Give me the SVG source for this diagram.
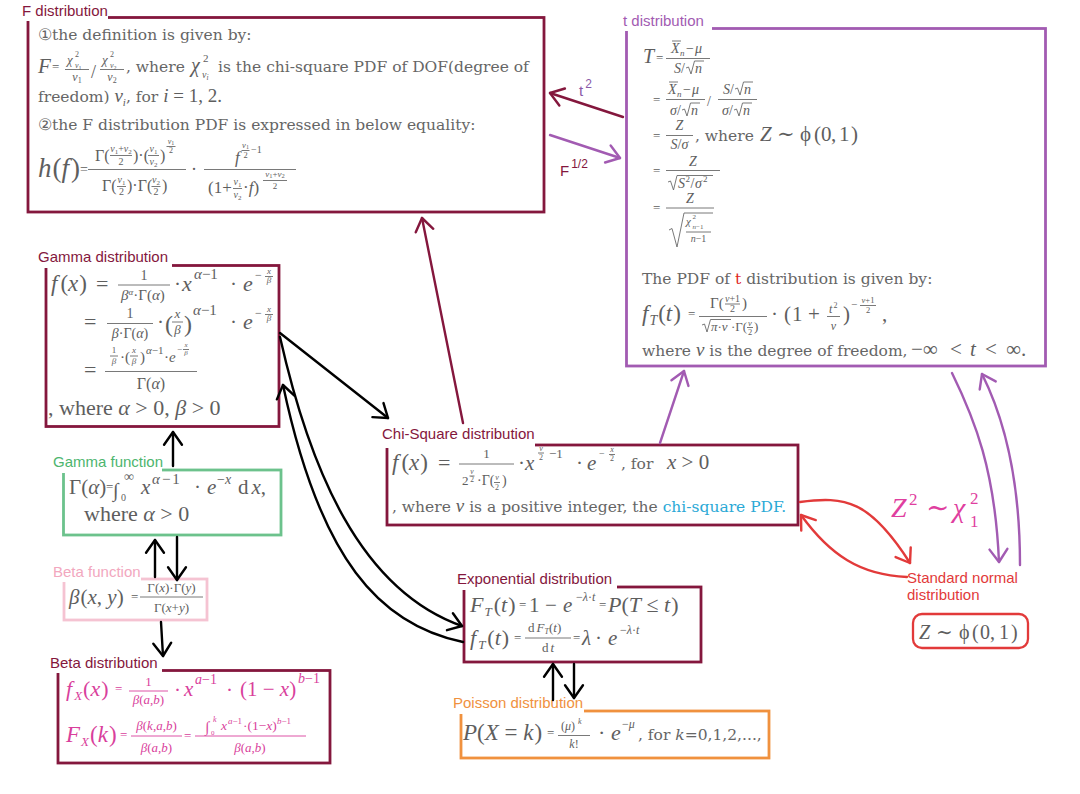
<svg xmlns="http://www.w3.org/2000/svg" width="1080" height="794" viewBox="0 0 1080 794">
<defs>
<style>
.lbl{font-family:"Liberation Sans",Arial,sans-serif;font-size:15px}
.bd{font-family:"DejaVu Serif","Liberation Serif",serif;font-size:15.5px;fill:#666}
.m{font-family:"Liberation Serif","Times New Roman","DejaVu Serif",serif;fill:#5e5e5e}
.i{font-style:italic}
.u{font-style:normal}
.c{text-anchor:middle}
.bar{stroke:#6a6a6a;stroke-width:0.9;fill:none}
.box{fill:none;stroke-width:2.8}
.mar{stroke:#84173d}
.cn{fill:none;stroke-width:2.4;stroke-linecap:round}
.mg .m{fill:#d93f9c}
.mg .bar{stroke:#d93f9c}
</style>
<marker id="aK" viewBox="-2 -2 14 18" refX="10" refY="7" markerWidth="18" markerHeight="23" markerUnits="userSpaceOnUse" orient="auto"><path d="M0,0 L10,7 L0,14" fill="none" stroke="#000" stroke-width="1.9" stroke-linecap="round" stroke-linejoin="round"/></marker>
<marker id="aM" viewBox="-2 -2 14 18" refX="10" refY="7" markerWidth="18" markerHeight="23" markerUnits="userSpaceOnUse" orient="auto"><path d="M0,0 L10,7 L0,14" fill="none" stroke="#84173d" stroke-width="1.9" stroke-linecap="round" stroke-linejoin="round"/></marker>
<marker id="aP" viewBox="-2 -2 14 18" refX="10" refY="7" markerWidth="18" markerHeight="23" markerUnits="userSpaceOnUse" orient="auto"><path d="M0,0 L10,7 L0,14" fill="none" stroke="#a25bb2" stroke-width="1.9" stroke-linecap="round" stroke-linejoin="round"/></marker>
<marker id="aR" viewBox="-2 -2 14 18" refX="10" refY="7" markerWidth="18" markerHeight="23" markerUnits="userSpaceOnUse" orient="auto"><path d="M0,0 L10,7 L0,14" fill="none" stroke="#e23a3a" stroke-width="1.9" stroke-linecap="round" stroke-linejoin="round"/></marker>
</defs>
<rect width="1080" height="794" fill="#fff"/>

<!-- F distribution -->
<g id="f-dist">
<rect class="box mar" x="28" y="17.5" width="516" height="194.5"/>
<rect x="18" y="3" width="90" height="18" fill="#fff"/>
<text class="lbl" x="22" y="16" fill="#84173d">F distribution</text>
<text class="bd" x="38" y="40">①the definition is given by:</text>
<text class="m i" x="38" y="73" font-size="21">F</text>
<text class="m" x="52" y="71" font-size="13">=</text>
<text class="m i" x="67" y="64" font-size="13">χ</text>
<text class="m" x="75" y="57" font-size="8">2</text>
<text class="m i" x="75" y="68" font-size="8">ν<tspan class="u" font-size="6" dy="1.5">1</tspan></text>
<line class="bar" x1="65" y1="69.5" x2="89" y2="69.5"/>
<text class="m i c" x="77" y="81" font-size="12">ν<tspan class="u" font-size="8" dy="2">1</tspan></text>
<text class="m" x="91" y="78" font-size="18">/</text>
<text class="m i" x="102" y="64" font-size="13">χ</text>
<text class="m" x="110" y="57" font-size="8">2</text>
<text class="m i" x="110" y="68" font-size="8">ν<tspan class="u" font-size="6" dy="1.5">2</tspan></text>
<line class="bar" x1="100" y1="69.5" x2="124" y2="69.5"/>
<text class="m i c" x="112" y="81" font-size="12">ν<tspan class="u" font-size="8" dy="2">2</tspan></text>
<text class="bd" x="126" y="72">, where</text>
<text class="m i" x="191" y="72" font-size="20">χ</text>
<text class="m" x="203" y="62" font-size="11">2</text>
<text class="m i" x="202" y="78" font-size="10">ν<tspan font-size="7.5" dy="2">i</tspan></text>
<text class="bd" x="218" y="72">is the chi-square PDF of DOF(degree of</text>
<text class="bd" x="38" y="102">freedom) <tspan class="m i" font-size="19">ν</tspan><tspan class="m i" font-size="11" dy="4">i</tspan><tspan dy="-4">, for </tspan><tspan class="m i" font-size="19">i</tspan><tspan class="m" font-size="19"> = 1, 2.</tspan></text>
<text class="bd" x="38" y="130">②the F distribution PDF is expressed in below equality:</text>
<text class="m" x="38" y="177" font-size="27"><tspan class="i">h</tspan><tspan dx="1">(</tspan><tspan class="i">f</tspan><tspan dx="2">)</tspan></text>
<text class="m" x="80" y="174" font-size="14">=</text>
<line class="bar" x1="88" y1="169.5" x2="186" y2="169.5"/>
<text class="m" x="95" y="161" font-size="16">Γ(</text>
<text class="m i c" x="121" y="152" font-size="10">ν<tspan class="u" font-size="7" dy="1.5">1</tspan><tspan class="u" dy="-1.5">+</tspan>ν<tspan class="u" font-size="7" dy="1.5">2</tspan></text>
<line class="bar" x1="110" y1="155.5" x2="132" y2="155.5"/>
<text class="m c" x="121" y="164.5" font-size="10">2</text>
<text class="m" x="133" y="161" font-size="16">)·(</text>
<text class="m i c" x="153.5" y="152" font-size="10">ν<tspan class="u" font-size="7" dy="1.5">1</tspan></text>
<line class="bar" x1="148" y1="155.5" x2="159" y2="155.5"/>
<text class="m i c" x="153.5" y="165" font-size="10">ν<tspan class="u" font-size="7" dy="1.5">2</tspan></text>
<text class="m" x="160" y="161" font-size="16">)</text>
<text class="m i c" x="171" y="144" font-size="8">ν<tspan class="u" font-size="6" dy="1">1</tspan></text>
<line class="bar" x1="166.5" y1="146.5" x2="175.5" y2="146.5"/>
<text class="m c" x="171" y="153" font-size="8">2</text>
<text class="m" x="102" y="191" font-size="16">Γ(</text>
<text class="m i c" x="121.5" y="183" font-size="10">ν<tspan class="u" font-size="7" dy="1.5">1</tspan></text>
<line class="bar" x1="117" y1="186.5" x2="126" y2="186.5"/>
<text class="m c" x="121.5" y="195" font-size="10">2</text>
<text class="m" x="127" y="191" font-size="16">)·Γ(</text>
<text class="m i c" x="156" y="183" font-size="10">ν<tspan class="u" font-size="7" dy="1.5">2</tspan></text>
<line class="bar" x1="151.5" y1="186.5" x2="160.5" y2="186.5"/>
<text class="m c" x="156" y="195" font-size="10">2</text>
<text class="m" x="162" y="191" font-size="16">)</text>
<text class="m" x="191" y="175" font-size="18">·</text>
<line class="bar" x1="204" y1="169.5" x2="296" y2="169.5"/>
<text class="m i" x="235" y="163" font-size="17">f</text>
<text class="m i c" x="245.5" y="148" font-size="8.5">ν<tspan class="u" font-size="6" dy="1">1</tspan></text>
<line class="bar" x1="241.5" y1="150.5" x2="249.5" y2="150.5"/>
<text class="m c" x="245.5" y="157.5" font-size="8.5">2</text>
<text class="m" x="251" y="153" font-size="10">−1</text>
<text class="m" x="208" y="193" font-size="17">(1+</text>
<text class="m i c" x="237.5" y="185" font-size="10">ν<tspan class="u" font-size="7" dy="1.5">1</tspan></text>
<line class="bar" x1="233" y1="188.5" x2="242" y2="188.5"/>
<text class="m i c" x="237.5" y="198" font-size="10">ν<tspan class="u" font-size="7" dy="1.5">2</tspan></text>
<text class="m" x="243" y="193" font-size="17">·<tspan class="i">f</tspan>)</text>
<text class="m i c" x="275" y="177" font-size="9">ν<tspan class="u" font-size="6.5" dy="1">1</tspan><tspan class="u" dy="-1">+</tspan>ν<tspan class="u" font-size="6.5" dy="1">2</tspan></text>
<line class="bar" x1="263" y1="180.5" x2="287" y2="180.5"/>
<text class="m c" x="275" y="189" font-size="9">2</text>
</g>

<!-- t distribution -->
<g id="t-dist">
<rect class="box" stroke="#a25bb2" x="626.5" y="28.5" width="419" height="337.5"/>
<rect x="619" y="12" width="93" height="19" fill="#fff"/>
<text class="lbl" x="623" y="26" fill="#a25bb2">t distribution</text>
<text class="m i" x="643" y="63" font-size="20">T</text>
<text class="m" x="656" y="62" font-size="13">=</text>
<line class="bar" x1="666" y1="58.5" x2="710" y2="58.5"/>
<text class="m i" x="671" y="53" font-size="14">X</text>
<line class="bar" x1="672" y1="41" x2="681" y2="41"/>
<text class="m i" x="680" y="56" font-size="9">n</text>
<text class="m" x="686" y="53" font-size="14">−</text>
<text class="m i" x="695" y="53" font-size="14">μ</text>
<text class="m" x="674" y="73" font-size="14"><tspan class="i">S</tspan>/</text>
<path class="bar" d="M686,68 L688.5,67 L691,74 L694.5,61 L704,61"/>
<text class="m i" x="695" y="73" font-size="14">n</text>

<text class="m" x="653" y="104" font-size="13">=</text>
<line class="bar" x1="666" y1="99.5" x2="705" y2="99.5"/>
<text class="m i" x="668" y="94" font-size="14">X</text>
<line class="bar" x1="669" y1="82" x2="678" y2="82"/>
<text class="m i" x="677" y="97" font-size="9">n</text>
<text class="m" x="683" y="94" font-size="14">−</text>
<text class="m i" x="692" y="94" font-size="14">μ</text>
<text class="m" x="670" y="115" font-size="14"><tspan class="i">σ</tspan>/</text>
<path class="bar" d="M682,110 L684.5,109 L687,116 L690.5,103 L700,103"/>
<text class="m i" x="691" y="115" font-size="14">n</text>
<text class="m" x="707" y="106" font-size="14">/</text>
<line class="bar" x1="718" y1="99.5" x2="757" y2="99.5"/>
<text class="m" x="723" y="94" font-size="14"><tspan class="i">S</tspan>/</text>
<path class="bar" d="M735,89 L737.5,88 L740,95 L743.5,82 L753,82"/>
<text class="m i" x="744" y="94" font-size="14">n</text>
<text class="m" x="722" y="115" font-size="14"><tspan class="i">σ</tspan>/</text>
<path class="bar" d="M734,110 L736.5,109 L739,116 L742.5,103 L752,103"/>
<text class="m i" x="743" y="115" font-size="14">n</text>

<text class="m" x="653" y="140" font-size="13">=</text>
<line class="bar" x1="666" y1="135.5" x2="693" y2="135.5"/>
<text class="m i c" x="679.5" y="130" font-size="14">Z</text>
<text class="m c" x="679.5" y="149" font-size="14"><tspan class="i">S</tspan>/<tspan class="i">σ</tspan></text>
<text class="bd" x="695" y="141">, where</text>
<text class="m" y="141" font-size="21"><tspan class="i" x="760">Z</tspan><tspan x="777">∼</tspan><tspan x="800">ϕ</tspan><tspan x="814">(</tspan><tspan x="821">0</tspan><tspan x="831">,</tspan><tspan x="839">1</tspan><tspan x="851">)</tspan></text>

<text class="m" x="653" y="175" font-size="13">=</text>
<line class="bar" x1="666" y1="170.5" x2="720" y2="170.5"/>
<text class="m i c" x="693" y="166" font-size="14">Z</text>
<path class="bar" d="M668,182 L670.5,181 L673.5,190 L677,175.5 L713,175.5"/>
<text class="m i" x="678" y="188" font-size="14">S</text>
<text class="m" x="685.5" y="182" font-size="9">2</text>
<text class="m" x="690.5" y="188" font-size="14">/</text>
<text class="m i" x="695" y="188" font-size="14">σ</text>
<text class="m" x="703" y="182" font-size="9">2</text>

<text class="m" x="653" y="212" font-size="13">=</text>
<line class="bar" x1="666" y1="208" x2="714" y2="208"/>
<text class="m i c" x="690" y="203" font-size="14">Z</text>
<path class="bar" d="M669,230 L672,228.5 L677,247 L684,213 L713,213"/>
<text class="m i" x="686" y="225" font-size="11">χ</text>
<text class="m" x="692.5" y="219" font-size="7">2</text>
<text class="m" x="692.5" y="229" font-size="7"><tspan class="i">n</tspan>−1</text>
<line class="bar" x1="686" y1="232" x2="711" y2="232"/>
<text class="m c" x="698.5" y="242" font-size="10"><tspan class="i">n</tspan>−1</text>

<text class="bd" x="642" y="284">The PDF of <tspan fill="#e02424">t</tspan> distribution is given by:</text>

<text class="m" x="642" y="321" font-size="23"><tspan class="i">f</tspan><tspan class="i" font-size="14" dy="4" dx="1">T</tspan><tspan dy="-4" dx="1">(</tspan><tspan class="i">t</tspan><tspan dx="1">)</tspan></text>
<text class="m" x="688" y="318" font-size="13">=</text>
<line class="bar" x1="699" y1="316.5" x2="767" y2="316.5"/>
<text class="m" x="710" y="308" font-size="15">Γ(</text>
<text class="m c" x="732.5" y="301.5" font-size="10"><tspan class="i">ν</tspan>+1</text>
<line class="bar" x1="725" y1="304" x2="740" y2="304"/>
<text class="m c" x="732.5" y="312" font-size="10">2</text>
<text class="m" x="742" y="308" font-size="15">)</text>
<path class="bar" d="M702,325 L704.5,324 L707,332 L710.5,319.5 L731,319.5"/>
<text class="m i" x="711" y="331" font-size="13">π<tspan class="u">·</tspan>ν</text>
<text class="m" x="731" y="331" font-size="13">·Γ(</text>
<text class="m i c" x="750" y="325.5" font-size="8.5">ν</text>
<line class="bar" x1="747" y1="327.5" x2="753" y2="327.5"/>
<text class="m c" x="750" y="335" font-size="8.5">2</text>
<text class="m" x="754" y="331" font-size="13">)</text>
<text class="m" y="321" font-size="21"><tspan x="771">·</tspan><tspan x="784">(</tspan><tspan x="792">1</tspan><tspan x="808">+</tspan></text>
<text class="m i" x="829" y="313" font-size="12">t</text>
<text class="m" x="833.5" y="308" font-size="8">2</text>
<line class="bar" x1="827" y1="316.5" x2="840" y2="316.5"/>
<text class="m i c" x="833.5" y="330" font-size="12">ν</text>
<text class="m" x="843" y="321" font-size="21">)</text>
<text class="m" x="851" y="308" font-size="11">−</text>
<text class="m c" x="868" y="303" font-size="8.5"><tspan class="i">ν</tspan>+1</text>
<line class="bar" x1="860" y1="305.5" x2="876" y2="305.5"/>
<text class="m c" x="868" y="313" font-size="8.5">2</text>
<text class="m" x="882" y="321" font-size="21">,</text>

<text class="bd" x="642" y="356">where <tspan class="m i" font-size="19">ν</tspan> is the degree of freedom,</text>
<text class="m" y="356" font-size="21"><tspan x="911">−∞</tspan><tspan x="950">&lt;</tspan><tspan class="i" x="970">t</tspan><tspan x="985">&lt;</tspan><tspan x="1006">∞.</tspan></text>
</g>

<!-- Gamma distribution -->
<g id="gamma-dist">
<rect class="box mar" x="46" y="265.5" width="233" height="161"/>
<rect x="35" y="248" width="137" height="20" fill="#fff"/>
<text class="lbl" x="38" y="262" fill="#84173d">Gamma distribution</text>
<text class="m" x="51" y="291" font-size="23"><tspan class="i">f</tspan><tspan dx="3">(</tspan><tspan class="i">x</tspan><tspan dx="1">)</tspan></text>
<text class="m" x="96" y="291" font-size="22">=</text>
<line class="bar" x1="118" y1="285" x2="170" y2="285"/>
<text class="m c" x="144" y="280" font-size="14">1</text>
<text class="m" x="121" y="300" font-size="15"><tspan class="i">β</tspan><tspan class="i" font-size="9" dy="-5">α</tspan><tspan dy="5">·Γ(</tspan><tspan class="i">α</tspan>)</text>
<text class="m" x="174" y="291" font-size="21">·</text>
<text class="m i" x="182" y="291" font-size="22">x</text>
<text class="m" x="194" y="279" font-size="15"><tspan class="i">α</tspan>−1</text>
<text class="m" x="230" y="291" font-size="21">·</text>
<text class="m i" x="243" y="291" font-size="22">e</text>
<text class="m" x="255" y="279" font-size="12">−</text>
<text class="m i c" x="269" y="274" font-size="9">x</text>
<line class="bar" x1="265" y1="276.5" x2="273" y2="276.5"/>
<text class="m i c" x="269" y="283" font-size="9">β</text>

<text class="m" x="84" y="329" font-size="22">=</text>
<line class="bar" x1="107" y1="323.5" x2="153" y2="323.5"/>
<text class="m c" x="130" y="318" font-size="14">1</text>
<text class="m c" x="130" y="338" font-size="14"><tspan class="i">β</tspan>·Γ(<tspan class="i">α</tspan>)</text>
<text class="m" x="157" y="329" font-size="21">·</text>
<text class="m" x="165" y="332" font-size="24">(</text>
<text class="m i c" x="177.5" y="318" font-size="13">x</text>
<line class="bar" x1="172" y1="322" x2="183" y2="322"/>
<text class="m i c" x="177.5" y="334" font-size="13">β</text>
<text class="m" x="184" y="332" font-size="24">)</text>
<text class="m" x="193" y="315" font-size="15"><tspan class="i">α</tspan>−1</text>
<text class="m" x="230" y="329" font-size="21">·</text>
<text class="m i" x="243" y="329" font-size="22">e</text>
<text class="m" x="255" y="317" font-size="12">−</text>
<text class="m i c" x="269" y="312" font-size="9">x</text>
<line class="bar" x1="265" y1="314.5" x2="273" y2="314.5"/>
<text class="m i c" x="269" y="321" font-size="9">β</text>

<text class="m" x="84" y="377" font-size="22">=</text>
<line class="bar" x1="105" y1="371.5" x2="197" y2="371.5"/>
<text class="m c" x="114" y="353" font-size="9">1</text>
<line class="bar" x1="110" y1="356" x2="118" y2="356"/>
<text class="m i c" x="114" y="364" font-size="9">β</text>
<text class="m" x="120" y="362" font-size="15">·(</text>
<text class="m i c" x="134" y="353" font-size="9">x</text>
<line class="bar" x1="130" y1="356" x2="138" y2="356"/>
<text class="m i c" x="134" y="364" font-size="9">β</text>
<text class="m" x="140" y="362" font-size="15">)</text>
<text class="m" x="146" y="354" font-size="11"><tspan class="i">α</tspan>−1</text>
<text class="m" x="164" y="362" font-size="15">·<tspan class="i">e</tspan></text>
<text class="m" x="177" y="352" font-size="9">−</text>
<text class="m i c" x="186" y="347" font-size="7">x</text>
<line class="bar" x1="183" y1="349.5" x2="189" y2="349.5"/>
<text class="m i c" x="186" y="355" font-size="7">β</text>
<text class="m c" x="151" y="389" font-size="16">Γ(<tspan class="i">α</tspan>)</text>

<text class="m" x="48" y="415" font-size="22">, where <tspan class="i">α</tspan> &gt; 0, <tspan class="i">β</tspan> &gt; 0</text>
</g>

<!-- Gamma function -->
<g id="gamma-fn">
<rect class="box" stroke="#6cc28c" stroke-width="1.8" x="63.5" y="470" width="217.5" height="65"/>
<rect x="50" y="454" width="112" height="19" fill="#fff"/>
<text class="lbl" x="53" y="467" fill="#4db56e">Gamma function</text>
<text class="m" x="69" y="494" font-size="21">Γ(<tspan class="i">α</tspan>)</text>
<text class="m" x="106" y="491" font-size="13">=</text>
<text class="m" x="113" y="497" font-size="20">∫</text>
<text class="m" x="121" y="501" font-size="10">0</text>
<text class="m" x="124" y="481" font-size="14">∞</text>
<text class="m i" x="141" y="494" font-size="21">x</text>
<text class="m" x="152" y="484" font-size="15"><tspan class="i">α</tspan><tspan dx="2">−</tspan><tspan dx="2">1</tspan></text>
<text class="m" x="194" y="494" font-size="21">·</text>
<text class="m i" x="207" y="494" font-size="21">e</text>
<text class="m" x="217" y="484" font-size="14">−<tspan class="i">x</tspan></text>
<text class="m" x="238" y="494" font-size="21">d<tspan class="i" dx="3">x</tspan>,</text>
<text class="m" x="84" y="521" font-size="22">where <tspan class="i">α</tspan> &gt; 0</text>
</g>

<!-- Beta function -->
<g id="beta-fn">
<rect class="box" stroke="#f5c3d2" stroke-width="1.8" x="64" y="579" width="143" height="41"/>
<rect x="50" y="563" width="91" height="19" fill="#fff"/>
<text class="lbl" x="53" y="577" fill="#f2a7be">Beta function</text>
<text class="m" x="69" y="604" font-size="21"><tspan class="i">β</tspan><tspan dx="1">(</tspan><tspan class="i">x</tspan>, <tspan class="i">y</tspan>)</text>
<text class="m" x="131" y="601" font-size="13">=</text>
<line class="bar" x1="140" y1="597" x2="203" y2="597"/>
<text class="m c" x="171.5" y="592" font-size="13">Γ(<tspan class="i">x</tspan>)·Γ(<tspan class="i">y</tspan>)</text>
<text class="m c" x="171.5" y="612" font-size="13">Γ(<tspan class="i">x</tspan>+<tspan class="i">y</tspan>)</text>
</g>

<!-- Beta distribution -->
<g id="beta-dist" class="mg">
<rect class="box mar" x="58" y="670.5" width="272" height="92.5"/>
<rect x="47" y="654" width="115" height="19" fill="#fff"/>
<text class="lbl" x="50" y="668" fill="#84173d">Beta distribution</text>
<text class="m" x="66" y="696" font-size="22"><tspan class="i">f</tspan><tspan class="i" font-size="13" dy="4" dx="2">X</tspan><tspan dy="-4" dx="1">(</tspan><tspan class="i">x</tspan><tspan dx="1">)</tspan></text>
<text class="m" x="115" y="693" font-size="13">=</text>
<line class="bar" x1="129" y1="691" x2="168" y2="691"/>
<text class="m c" x="148.5" y="686" font-size="13">1</text>
<text class="m c" x="148.5" y="704" font-size="13"><tspan class="i">β</tspan>(<tspan class="i">a</tspan>,<tspan class="i">b</tspan>)</text>
<text class="m" x="174" y="697" font-size="21">·</text>
<text class="m i" x="184" y="696" font-size="21">x</text>
<text class="m" x="195" y="684" font-size="14"><tspan class="i">a</tspan>−1</text>
<text class="m" x="226" y="697" font-size="21">·</text>
<text class="m" x="240" y="696" font-size="21">(1 − <tspan class="i">x</tspan>)</text>
<text class="m" x="298" y="683" font-size="14"><tspan class="i">b</tspan>−1</text>
<text class="m" x="66" y="742" font-size="23"><tspan class="i">F</tspan><tspan class="i" font-size="13" dy="4" dx="1">X</tspan><tspan dy="-4" dx="1">(</tspan><tspan class="i">k</tspan><tspan dx="1">)</tspan></text>
<text class="m" x="120" y="739" font-size="13">=</text>
<line class="bar" x1="131" y1="736" x2="182" y2="736"/>
<text class="m c" x="156.5" y="730" font-size="13"><tspan class="i">β</tspan>(<tspan class="i">k</tspan>,<tspan class="i">a</tspan>,<tspan class="i">b</tspan>)</text>
<text class="m c" x="156.5" y="752" font-size="13"><tspan class="i">β</tspan>(<tspan class="i">a</tspan>,<tspan class="i">b</tspan>)</text>
<text class="m" x="184" y="740" font-size="13">=</text>
<line class="bar" x1="195" y1="736" x2="306" y2="736"/>
<text class="m" x="205" y="732" font-size="15">∫</text>
<text class="m" x="211" y="735" font-size="7">0</text>
<text class="m i" x="213" y="722" font-size="8">k</text>
<text class="m i" x="221" y="730" font-size="13.5">x</text>
<text class="m" x="228" y="724" font-size="9"><tspan class="i">a</tspan>−1</text>
<text class="m" x="243" y="730" font-size="13.5">·(1−<tspan class="i">x</tspan>)</text>
<text class="m" x="277" y="724" font-size="9"><tspan class="i">b</tspan>−1</text>
<text class="m c" x="250" y="752" font-size="13"><tspan class="i">β</tspan>(<tspan class="i">a</tspan>,<tspan class="i">b</tspan>)</text>
</g>

<!-- Chi-square distribution -->
<g id="chi-dist">
<rect class="box mar" x="387" y="445" width="411" height="80"/>
<rect x="379" y="424" width="156" height="24" fill="#fff"/>
<text class="lbl" x="382" y="439" fill="#84173d">Chi-Square distribution</text>
<text class="m" x="392" y="470" font-size="23"><tspan class="i">f</tspan><tspan dx="3">(</tspan><tspan class="i">x</tspan><tspan dx="1">)</tspan></text>
<text class="m" x="438" y="470" font-size="22">=</text>
<line class="bar" x1="459" y1="464" x2="514" y2="464"/>
<text class="m c" x="486.5" y="458" font-size="13">1</text>
<text class="m" x="462" y="485" font-size="13">2</text>
<text class="m i c" x="472" y="474" font-size="7.5">ν</text>
<line class="bar" x1="469.5" y1="476" x2="474.5" y2="476"/>
<text class="m c" x="472" y="482" font-size="7.5">2</text>
<text class="m" x="477" y="485" font-size="14">·Γ(</text>
<text class="m i c" x="497" y="480" font-size="8">ν</text>
<line class="bar" x1="494" y1="482.5" x2="500" y2="482.5"/>
<text class="m c" x="497" y="490" font-size="8">2</text>
<text class="m" x="502" y="485" font-size="14">)</text>
<text class="m" x="518" y="470" font-size="21">·</text>
<text class="m i" x="525" y="470" font-size="21">x</text>
<text class="m i c" x="541" y="451" font-size="8">ν</text>
<line class="bar" x1="538" y1="453" x2="544" y2="453"/>
<text class="m c" x="541" y="460" font-size="8">2</text>
<text class="m" x="549" y="458" font-size="13">−1</text>
<text class="m" x="576" y="470" font-size="21">·</text>
<text class="m i" x="587" y="470" font-size="21">e</text>
<text class="m" x="599" y="457" font-size="10">−</text>
<text class="m i c" x="612" y="452" font-size="8">x</text>
<line class="bar" x1="609" y1="454.5" x2="615" y2="454.5"/>
<text class="m c" x="612" y="461" font-size="8">2</text>
<text class="bd" x="621" y="469">, for</text>
<text class="m" x="667" y="469" font-size="21"><tspan class="i">x</tspan> &gt; 0</text>
<text class="bd" x="392" y="512">, where <tspan class="m i" font-size="19">ν</tspan> is a positive integer, the <tspan fill="#2aa9d6">chi-square PDF.</tspan></text>
</g>

<!-- Exponential distribution -->
<g id="exp-dist">
<rect class="box mar" x="464" y="587" width="237" height="75"/>
<rect x="454" y="569" width="163" height="21" fill="#fff"/>
<text class="lbl" x="457" y="584" fill="#84173d">Exponential distribution</text>
<text class="m" x="470" y="612" font-size="22"><tspan class="i">F</tspan><tspan class="i" font-size="13" dy="4" dx="1">T</tspan><tspan dy="-4" dx="2">(</tspan><tspan class="i">t</tspan><tspan dx="1">)</tspan></text>
<text class="m" x="519" y="609" font-size="13">=</text>
<text class="m" y="612" font-size="21"><tspan x="529">1</tspan><tspan x="545">−</tspan><tspan class="i" x="563">e</tspan></text>
<text class="m" x="576" y="601" font-size="12">−<tspan class="i">λ</tspan>·<tspan class="i">t</tspan></text>
<text class="m" x="599" y="609" font-size="13">=</text>
<text class="m" x="608" y="612" font-size="22"><tspan class="i">P</tspan>(<tspan class="i">T</tspan> ≤ <tspan class="i">t</tspan><tspan dx="1">)</tspan></text>
<text class="m" x="470" y="645" font-size="22"><tspan class="i">f</tspan><tspan class="i" font-size="13" dy="4" dx="2">T</tspan><tspan dy="-4" dx="2">(</tspan><tspan class="i">t</tspan><tspan dx="1">)</tspan></text>
<text class="m" x="514" y="642" font-size="13">=</text>
<line class="bar" x1="525" y1="638" x2="571" y2="638"/>
<text class="m" x="528" y="632" font-size="13">d<tspan class="i" dx="2">F</tspan><tspan class="i" font-size="8" dy="2">T</tspan><tspan dy="-2">(</tspan><tspan class="i">t</tspan>)</text>
<text class="m c" x="548" y="652" font-size="13">d<tspan class="i" dx="2">t</tspan></text>
<text class="m" x="573" y="642" font-size="13">=</text>
<text class="m" y="645" font-size="21"><tspan class="i" x="582">λ</tspan><tspan x="595">·</tspan><tspan class="i" x="608">e</tspan></text>
<text class="m" x="620" y="634" font-size="12">−<tspan class="i">λ</tspan>·<tspan class="i">t</tspan></text>
</g>

<!-- Poisson distribution -->
<g id="poisson-dist">
<rect class="box" stroke="#f0913e" stroke-width="2.6" x="461" y="711" width="308" height="47"/>
<rect x="450" y="694" width="134" height="20" fill="#fff"/>
<text class="lbl" x="453" y="708" fill="#f0913e">Poisson distribution</text>
<text class="m" x="463" y="740" font-size="23"><tspan class="i">P</tspan>(<tspan class="i">X</tspan> = <tspan class="i">k</tspan><tspan dx="1">)</tspan></text>
<text class="m" x="547" y="737" font-size="13">=</text>
<line class="bar" x1="558" y1="735.5" x2="590" y2="735.5"/>
<text class="m" x="561" y="730" font-size="12">(<tspan class="i">μ</tspan>)</text>
<text class="m i" x="578" y="724" font-size="8">k</text>
<text class="m c" x="574" y="748" font-size="12"><tspan class="i">k</tspan>!</text>
<text class="m" x="598" y="740" font-size="22">·</text>
<text class="m i" x="611" y="740" font-size="22">e</text>
<text class="m" x="622" y="728" font-size="12">−<tspan class="i">μ</tspan></text>
<text class="bd" x="638" y="740" font-size="15">, for <tspan class="i">k</tspan>=0,1,2,...,</text>
</g>

<!-- Standard normal distribution -->
<g id="std-normal">
<text class="lbl" x="907" y="583" font-size="14.5" fill="#e23a3a">Standard normal</text>
<text class="lbl" x="907" y="600" font-size="14.5" fill="#e23a3a">distribution</text>
<rect x="913" y="614" width="115" height="34" rx="9" fill="none" stroke="#e23a3a" stroke-width="2.3"/>
<text class="m" y="639" font-size="20"><tspan class="i" x="919">Z</tspan><tspan x="936">∼</tspan><tspan x="959">ϕ</tspan><tspan x="972">(</tspan><tspan x="980">0</tspan><tspan x="990">,</tspan><tspan x="999">1</tspan><tspan x="1011">)</tspan></text>
</g>

<!-- connectors -->
<g id="connectors">
<path class="cn" stroke="#000" d="M280,333 L388,418" marker-end="url(#aK)"/>
<path class="cn" stroke="#000" d="M280,337 C310,470 360,590 462,626" marker-end="url(#aK)"/>
<path class="cn" stroke="#000" d="M463,642 C380,625 320,560 283,385" marker-end="url(#aK)"/>
<path class="cn" stroke="#000" d="M173,466 L173,432" marker-end="url(#aK)"/>
<path class="cn" stroke="#000" d="M155,577 L155,540" marker-end="url(#aK)"/>
<path class="cn" stroke="#000" d="M177,537 L177,580" marker-end="url(#aK)"/>
<path class="cn" stroke="#000" d="M161,622 L163,656" marker-end="url(#aK)"/>
<path class="cn" stroke="#000" d="M553,700 L553,664" marker-end="url(#aK)"/>
<path class="cn" stroke="#000" d="M574,664 L574,698" marker-end="url(#aK)"/>
<path class="cn" stroke="#84173d" d="M463,423 L422,218" marker-end="url(#aM)"/>
<path class="cn" stroke="#84173d" d="M623,117 L550,93" marker-end="url(#aM)"/>
<path class="cn" stroke="#a25bb2" d="M660,443 L684,371" marker-end="url(#aP)"/>
<path class="cn" stroke="#a25bb2" d="M550,135 L620,158" marker-end="url(#aP)"/>
<path class="cn" stroke="#a25bb2" d="M952,373 C975,420 995,470 999,562" marker-end="url(#aP)"/>
<path class="cn" stroke="#a25bb2" d="M1020,565 C1020,480 1005,420 982,374" marker-end="url(#aP)"/>
<path class="cn" stroke="#e23a3a" d="M800,502 C845,496 870,500 910,563" marker-end="url(#aR)"/>
<path class="cn" stroke="#e23a3a" d="M907,577 C860,575 830,555 801,515" marker-end="url(#aR)"/>
<text class="lbl" x="579" y="96" font-size="17" fill="#8b5aa8">t<tspan font-size="12" dx="2" dy="-8">2</tspan></text>
<text class="lbl" x="560" y="176" font-size="15" fill="#84173d">F<tspan font-size="12" dx="2" dy="-8">1/2</tspan></text>
<text class="m" y="517" font-size="28" style="fill:#df3f9f"><tspan class="i" x="891">Z</tspan><tspan x="926">∼</tspan><tspan class="i" x="953">χ</tspan></text>
<text class="m" x="909" y="505" font-size="17" style="fill:#df3f9f">2</text>
<text class="m" x="970" y="504" font-size="17" style="fill:#df3f9f">2</text>
<text class="m" x="970" y="527" font-size="17" style="fill:#df3f9f">1</text>
</g>
</svg>
